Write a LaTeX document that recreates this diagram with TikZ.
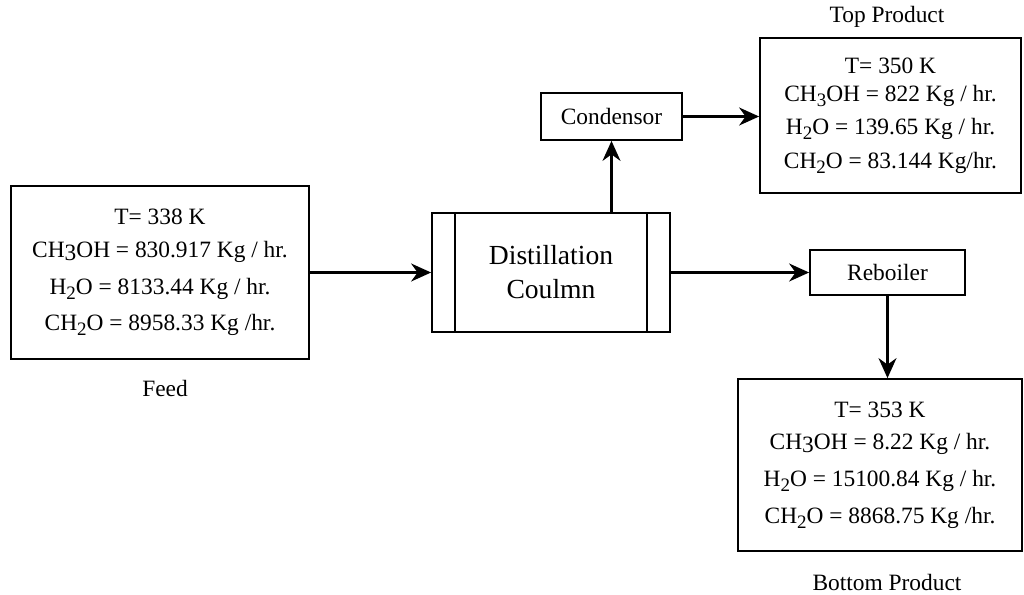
\documentclass[tikz,border=0pt]{standalone}
\usepackage{fontspec}
\setmainfont{Liberation Serif}
\usetikzlibrary{arrows.meta, positioning}

\newcommand{\lowthree}{\raisebox{-0.3ex}{3}}
\newcommand{\sub}[1]{\raisebox{-0.45ex}{\fontsize{9.5}{10}\selectfont #1}}

\begin{document}
\begin{tikzpicture}[
  x=0.5pt, y=-0.5pt,
  every node/.style={font=\fontsize{11.7}{14}\selectfont},
  box/.style={draw, line width=0.9pt, align=center, inner sep=0pt},
  flow/.style={->, line width=1.05pt},
  >={Stealth[length=10pt,width=9pt]}
]
  \useasboundingbox (0,0) rectangle (1024,595);

  % Nodes
  \node (feed) [box, minimum width=149pt, minimum height=86.5pt] at (160,272.5)
    {T= 338 K\\[2.5pt]
     CH\lowthree OH = 830.917 Kg / hr.\\[4.5pt]
     H\sub{2}O = 8133.44 Kg / hr.\\[4pt]
     CH\sub{2}O = 8958.33 Kg /hr.};
  \node (col) [box, minimum width=119pt, minimum height=59.5pt,
    font=\fontsize{13.8}{17}\selectfont] at (551,272.5) {Distillation\\Coulmn};
  \node (cond) [box, minimum width=70.5pt, minimum height=23.5pt] at (611.5,116.5) {Condensor};
  \node (top) [box, minimum width=130.5pt, minimum height=77.5pt] at (890.5,115.5)
    {T= 350 K\\
     CH\sub{3}OH = 822 Kg / hr.\\[2.5pt]
     H\sub{2}O = 139.65 Kg / hr.\\[3pt]
     CH\sub{2}O = 83.144 Kg/hr.};
  \node (reb) [box, minimum width=77.5pt, minimum height=22.5pt] at (887.5,272.5) {Reboiler};
  \node (bot) [box, minimum width=142pt, minimum height=86pt] at (880,465)
    {T= 353 K\\[2pt]
     CH\lowthree OH = 8.22 Kg / hr.\\[4.5pt]
     H\sub{2}O = 15100.84 Kg / hr.\\[4.5pt]
     CH\sub{2}O = 8868.75 Kg /hr.};

  % Labels
  \node (feedlbl) at (165,388) {Feed};
  \node (toplbl) at (887,17) {Top Product};
  \node (botlbl) at (887,582) {Bottom Product};

  % Column side bars
  \draw [line width=0.9pt] ([xshift=12pt]col.north west) -- ([xshift=12pt]col.south west);
  \draw [line width=0.9pt] ([xshift=-12pt]col.north east) -- ([xshift=-12pt]col.south east);

  % Edges
  \draw [flow] (feed) -- (col);
  \draw [flow] (col.north -| cond.south) -- (cond.south);
  \draw [flow] (cond) -- (cond -| top.west);
  \draw [flow] (col) -- (reb);
  \draw [flow] (reb.south) -- (reb.south |- bot.north);
\end{tikzpicture}
\end{document}
